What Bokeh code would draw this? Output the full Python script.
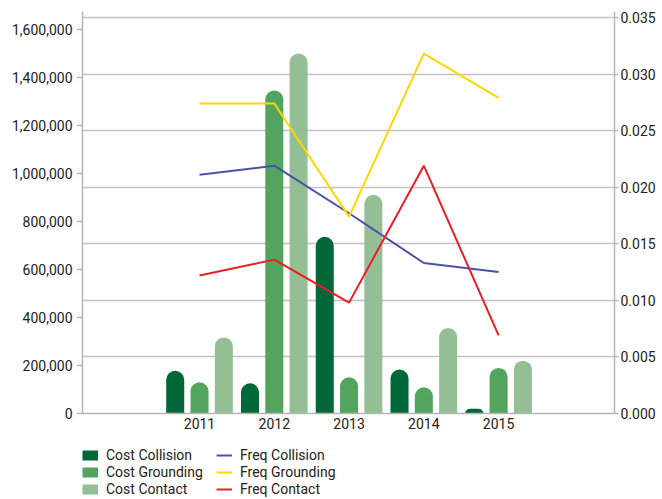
from bokeh.plotting import figure
from bokeh.layouts import column
from bokeh.models import (Range1d, LinearAxis, FixedTicker, NumeralTickFormatter,
                          Legend, LegendItem, Grid, ColumnDataSource)
from bokeh.transform import dodge
from bokeh.embed import file_html
from bokeh.resources import INLINE

years = [2011, 2012, 2013, 2014, 2015]
cost_collision = [178000, 126000, 736000, 183000, 20000]
cost_grounding = [130000, 1346000, 151000, 109000, 190000]
cost_contact = [317000, 1500000, 911000, 356000, 220000]
freq_collision = [0.0211, 0.0219, 0.0177, 0.0133, 0.0125]
freq_grounding = [0.0274, 0.0274, 0.0174, 0.0318, 0.0279]
freq_contact = [0.0122, 0.0136, 0.0098, 0.0219, 0.0069]
cost_ticks = [0, 200000, 400000, 600000, 800000, 1000000, 1200000, 1400000, 1600000]
freq_ticks = [0.0, 0.005, 0.010, 0.015, 0.020, 0.025, 0.030, 0.035]
series_labels = ["Cost Collision", "Cost Grounding", "Cost Contact",
                 "Freq Collision", "Freq Grounding", "Freq Contact"]

FONT = "Roboto"
AX = "#b5b5b5"
TXT = "#222222"
C_COLL, C_GRND, C_CONT = "#006838", "#53a45e", "#94bf94"
F_COLL, F_GRND, F_CONT = "#4c50a8", "#fdd800", "#ee1c25"

src = ColumnDataSource(dict(year=years, cc=cost_collision, cg=cost_grounding, ct=cost_contact,
                            fc=freq_collision, fg=freq_grounding, ft=freq_contact))

p = figure(width=662, height=435,
           x_range=Range1d(2009.435, 2016.55), y_range=Range1d(0, 1675000),
           output_backend="svg", toolbar_location=None,
           min_border_left=82, min_border_top=11, min_border_right=48, min_border_bottom=22)
p.outline_line_color = None
p.extra_y_ranges = {"freq": Range1d(0, 0.03553)}
p.xgrid.visible = False
p.ygrid.visible = False

p.add_layout(Grid(dimension=1, ticker=FixedTicker(ticks=freq_ticks), y_range_name="freq",
                  grid_line_color="#c2c2c2", grid_line_width=1.5), "center")

# axes
ya = p.yaxis[0]
ya.ticker = FixedTicker(ticks=cost_ticks)
ya.formatter = NumeralTickFormatter(format="0,0")
ra = LinearAxis(y_range_name="freq", ticker=FixedTicker(ticks=freq_ticks),
                formatter=NumeralTickFormatter(format="0.000"))
p.add_layout(ra, "right")
xa = p.xaxis[0]
xa.ticker = FixedTicker(ticks=years)
xa.formatter = NumeralTickFormatter(format="0")

for ax in (ya, ra, xa):
    ax.axis_line_color = AX
    ax.axis_line_width = 1.5
    ax.major_tick_line_color = AX
    ax.major_tick_line_width = 1.5
    ax.major_tick_in = 0
    ax.minor_tick_in = 0
    ax.minor_tick_out = 0
    ax.major_label_text_font = FONT
    ax.major_label_text_font_size = "14px"
    ax.major_label_text_color = TXT
ya.major_tick_out = 6
ya.major_label_standoff = 4
ra.major_tick_out = 4
ra.major_label_standoff = 2
xa.major_tick_out = 0
xa.major_label_standoff = 4

W = 0.241
OFF = 0.325
p.vbar(x=dodge("year", -OFF, range=p.x_range), top="cc", width=W, source=src,
       fill_color=C_COLL, line_color=None, border_radius=(9, 9, 0, 0))
p.vbar(x=dodge("year", 0, range=p.x_range), top="cg", width=W, source=src,
       fill_color=C_GRND, line_color=None, border_radius=(9, 9, 0, 0))
p.vbar(x=dodge("year", OFF, range=p.x_range), top="ct", width=W, source=src,
       fill_color=C_CONT, line_color=None, border_radius=(9, 9, 0, 0))

p.line("year", "fc", source=src, y_range_name="freq", line_color=F_COLL, line_width=2)
p.line("year", "fg", source=src, y_range_name="freq", line_color=F_GRND, line_width=2)
p.line("year", "ft", source=src, y_range_name="freq", line_color=F_CONT, line_width=2)

# legend strip below the chart; its swatch renderers hold one off-range point only
lg = figure(width=662, height=64, x_range=Range1d(0, 1), y_range=Range1d(0, 1),
            x_axis_location=None, y_axis_location=None,
            output_backend="svg", toolbar_location=None, min_border=0)
lg.outline_line_color = None
lg.grid.grid_line_color = None
off = ColumnDataSource(dict(x=[-5], y=[-5]))
swatches = [
    lg.line("x", "y", source=off, line_color=C_COLL, line_width=10),
    lg.line("x", "y", source=off, line_color=C_GRND, line_width=10),
    lg.line("x", "y", source=off, line_color=C_CONT, line_width=10),
    lg.line("x", "y", source=off, line_color=F_COLL, line_width=2),
    lg.line("x", "y", source=off, line_color=F_GRND, line_width=2),
    lg.line("x", "y", source=off, line_color=F_CONT, line_width=2),
]
legend = Legend(items=[LegendItem(label=lab, renderers=[r]) for lab, r in zip(series_labels, swatches)],
                orientation="vertical", nrows=3, ncols=2, location=(0, 2),
                label_text_font=FONT, label_text_font_size="14px", label_text_color=TXT,
                glyph_width=16, glyph_height=14, label_height=14, label_standoff=8, label_width=109,
                spacing=1, padding=0, margin=0, border_line_alpha=0, background_fill_alpha=0)
lg.add_layout(legend, "center")

open("out.html", "w").write(file_html(column(p, lg, spacing=0), INLINE))
